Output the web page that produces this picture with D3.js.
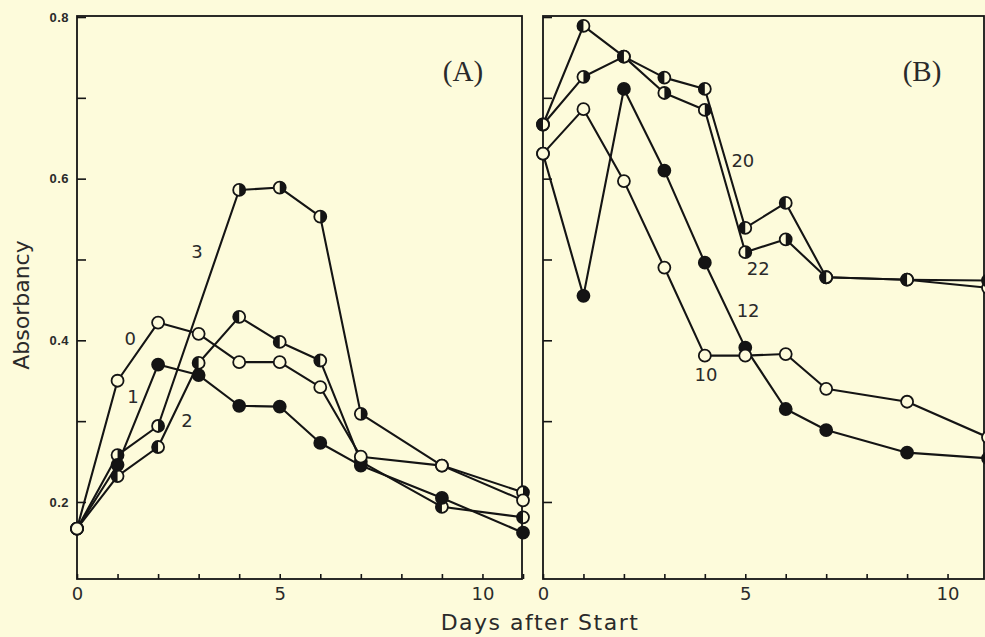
<!DOCTYPE html>
<html>
<head>
<meta charset="utf-8">
<script src="https://cdn.jsdelivr.net/npm/d3@7"></script>
<style>
  html, body { margin: 0; padding: 0; background: #fdfbdb; }
  svg { display: block; }
</style>
</head>
<body>
<script>
// days sampled (no day 8 or 10 readings)
const days = [0, 1, 2, 3, 4, 5, 6, 7, 9, 11];

// panel (A)
const seriesA0 = [0.167, 0.350, 0.422, 0.408, 0.373, 0.373, 0.342, 0.256, 0.245, 0.202];
const seriesA1 = [0.167, 0.246, 0.370, 0.357, 0.319, 0.318, 0.273, 0.245, 0.205, 0.162];
const seriesA2 = [0.167, 0.232, 0.268, 0.372, 0.429, 0.398, 0.375, 0.250, 0.194, 0.181];
const seriesA3 = [0.167, 0.258, 0.294, null, 0.586, 0.589, 0.553, 0.309, 0.245, 0.212];

// panel (B)
const seriesB10 = [0.631, 0.686, 0.597, 0.490, 0.381, 0.381, 0.383, 0.340, 0.324, 0.280];
const seriesB12 = [0.631, 0.455, 0.711, 0.610, 0.496, 0.391, 0.315, 0.289, 0.261, 0.254];
const seriesB20 = [0.667, 0.789, 0.751, 0.725, 0.711, 0.539, 0.570, 0.478, 0.475, 0.474];
const seriesB22 = [0.667, 0.726, 0.751, 0.706, 0.685, 0.509, 0.525, 0.478, 0.475, 0.465];

// curve labels: [text, day, absorbancy]
const labelsA = [['0', 1.31, 0.400], ['1', 1.38, 0.329], ['2', 2.71, 0.299], ['3', 2.96, 0.508]];
const labelsB = [['20', 4.94, 0.621], ['22', 5.32, 0.487], ['12', 5.07, 0.435], ['10', 4.03, 0.356]];

const yTicks = [0.2, 0.3, 0.4, 0.5, 0.6, 0.7, 0.8];
const xTicks = d3.range(0, 12);

const width = 985;
const height = 637;
const bg = '#fdfbdb';
const ink = '#141414';
const textInk = '#2a2a2a';

const svg = d3.select('body')
  .append('svg')
  .attr('width', width)
  .attr('height', height);

svg.append('rect')
  .attr('width', width)
  .attr('height', height)
  .attr('fill', bg);

const y = d3.scaleLinear()
  .domain([0.1047, 0.8])
  .range([579, 17]);

const r = 6;
const leftHalf = d3.arc().innerRadius(0).outerRadius(r).startAngle(Math.PI).endAngle(2 * Math.PI);
const rightHalf = d3.arc().innerRadius(0).outerRadius(r).startAngle(0).endAngle(Math.PI);

function drawPanel(opts) {
  const x = d3.scaleLinear().domain([0, 11]).range(opts.xRange);
  const g = svg.append('g');

  // frame
  g.append('rect')
    .attr('x', opts.xRange[0])
    .attr('y', 16)
    .attr('width', opts.frameRight - opts.xRange[0])
    .attr('height', 579 - 16)
    .attr('fill', 'none')
    .attr('stroke', ink)
    .attr('stroke-width', 1.8);

  const yAxis = d3.axisLeft(y)
    .tickValues(yTicks)
    .tickSizeInner(-9)
    .tickSizeOuter(0)
    .tickPadding(8)
    .tickFormat(d => (opts.yLabels && Math.round(d * 10) % 2 === 0) ? d3.format('.1f')(d) : '');

  const yg = g.append('g')
    .attr('transform', `translate(${opts.xRange[0]},0)`)
    .call(yAxis);
  yg.select('.domain').remove();
  yg.selectAll('.tick line').attr('stroke', ink).attr('stroke-width', 1.6);
  yg.selectAll('.tick text')
    .style('fill', textInk)
    .style('font-family', '"Liberation Sans", Arial, sans-serif')
    .style('font-weight', 'bold')
    .style('letter-spacing', '0.5px')
    .style('font-size', '13px');

  const xAxis = d3.axisBottom(x)
    .tickValues(xTicks)
    .tickSizeInner(-5)
    .tickSizeOuter(0)
    .tickPadding(8)
    .tickFormat(d => d % 5 === 0 ? d : '');

  const xg = g.append('g')
    .attr('transform', 'translate(0,579)')
    .call(xAxis);
  xg.select('.domain').remove();
  xg.selectAll('.tick line').attr('stroke', ink).attr('stroke-width', 1.6);
  xg.selectAll('.tick text')
    .style('fill', textInk)
    .style('font-family', '"DejaVu Sans", sans-serif')
    .style('font-size', '18px');

  const line = d3.line()
    .x(d => x(d.day))
    .y(d => y(d.v));

  for (const s of opts.series) {
    const pts = days.map((day, i) => ({ day, v: s.values[i] })).filter(d => d.v != null);

    g.append('path')
      .datum(pts)
      .attr('d', line)
      .attr('fill', 'none')
      .attr('stroke', ink)
      .attr('stroke-width', 2.1)
      .attr('stroke-linejoin', 'round');

    const m = g.append('g').selectAll('g')
      .data(pts)
      .join('g')
      .attr('transform', d => `translate(${x(d.day)},${y(d.v)})`);

    m.append('circle')
      .attr('r', r)
      .attr('fill', s.marker === 'filled' ? ink : bg)
      .attr('stroke', ink)
      .attr('stroke-width', 1.8);

    if (s.marker === 'left' || s.marker === 'right') {
      m.append('path')
        .attr('d', s.marker === 'left' ? leftHalf : rightHalf)
        .attr('fill', ink);
    }
  }

  g.selectAll('.curve-label')
    .data(opts.labels)
    .join('text')
    .attr('class', 'curve-label')
    .attr('x', d => x(d[1]))
    .attr('y', d => y(d[2]))
    .attr('text-anchor', 'middle')
    .attr('dominant-baseline', 'middle')
    .attr('font-family', 'DejaVu Sans, sans-serif')
    .attr('font-size', 18)
    .attr('fill', textInk)
    .text(d => d[0]);

  g.append('text')
    .attr('x', opts.titleX)
    .attr('y', 81)
    .attr('text-anchor', 'middle')
    .attr('font-family', 'Liberation Serif, serif')
    .attr('font-size', 29)
    .attr('fill', textInk)
    .text(opts.title);
}

drawPanel({
  xRange: [77, 523],
  frameRight: 522,
  yLabels: true,
  title: '(A)',
  titleX: 463,
  labels: labelsA,
  // drawn bottom-up so the open curve sits on top at day 9
  series: [
    { values: seriesA3, marker: 'right' },
    { values: seriesA2, marker: 'left' },
    { values: seriesA1, marker: 'filled' },
    { values: seriesA0, marker: 'open' }
  ]
});

drawPanel({
  xRange: [543, 988],
  frameRight: 984,
  yLabels: false,
  title: '(B)',
  titleX: 922,
  labels: labelsB,
  series: [
    { values: seriesB12, marker: 'filled' },
    { values: seriesB10, marker: 'open' },
    { values: seriesB22, marker: 'right' },
    { values: seriesB20, marker: 'left' }
  ]
});

// axis titles
svg.append('text')
  .attr('x', 540)
  .attr('y', 630)
  .attr('text-anchor', 'middle')
  .attr('font-family', 'DejaVu Sans, sans-serif')
  .attr('font-size', 22)
  .attr('letter-spacing', 1.5)
  .attr('fill', textInk)
  .text('Days after Start');

svg.append('text')
  .attr('transform', 'translate(29,305) rotate(-90)')
  .attr('text-anchor', 'middle')
  .attr('font-family', 'DejaVu Sans, sans-serif')
  .attr('font-size', 22)
  .attr('fill', textInk)
  .text('Absorbancy');
</script>
</body>
</html>
